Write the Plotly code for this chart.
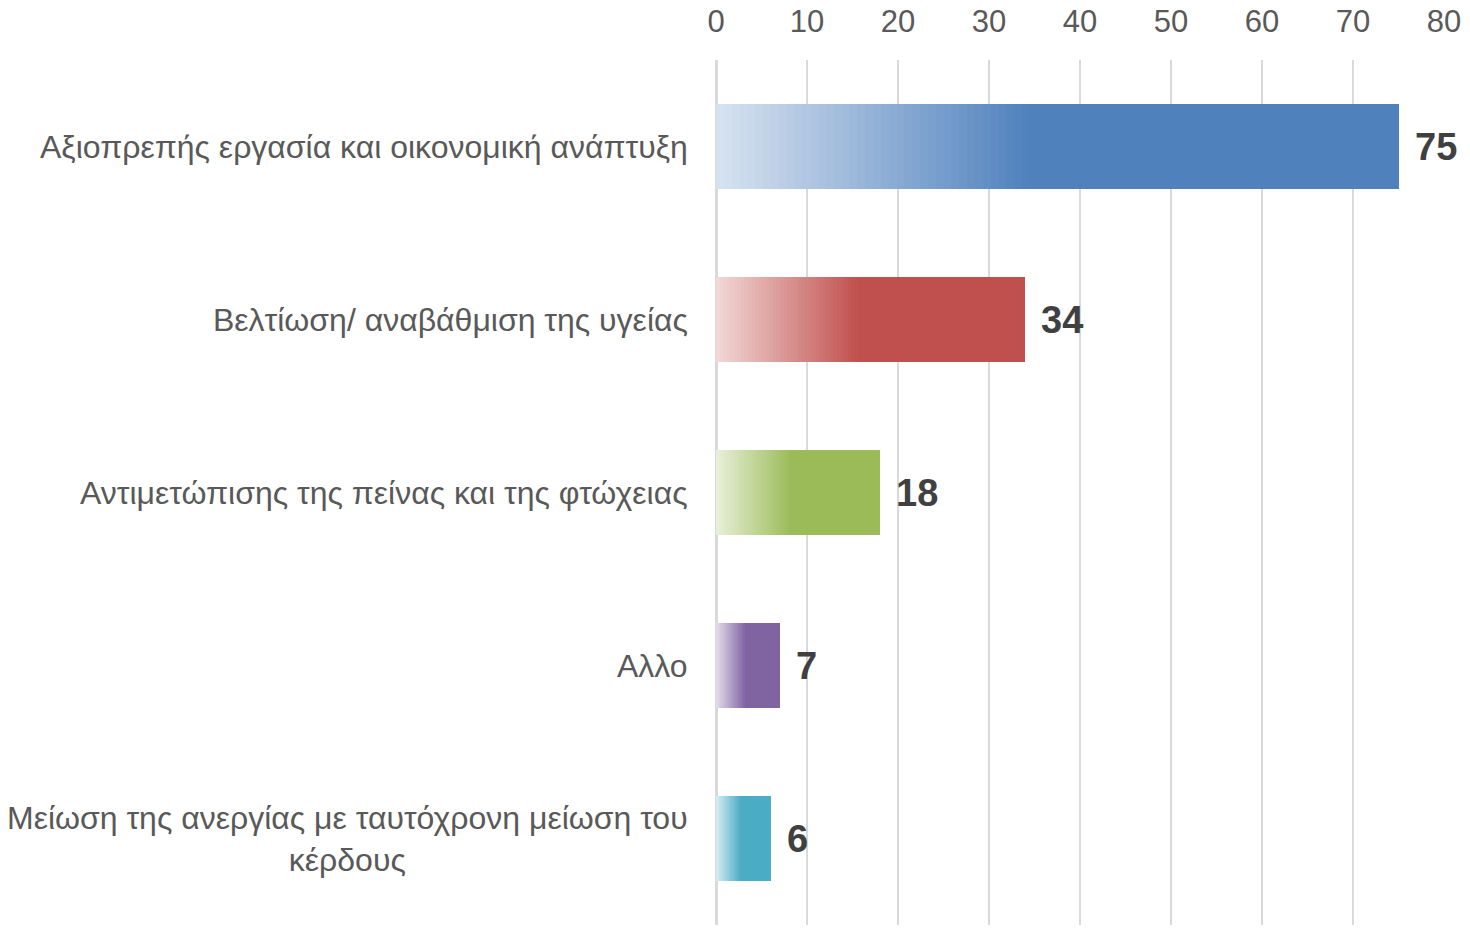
import plotly.graph_objects as go

categories = [
    "Αξιοπρεπής εργασία και οικονομική ανάπτυξη",
    "Βελτίωση/ αναβάθμιση της υγείας",
    "Αντιμετώπισης της πείνας και της φτώχειας",
    "Αλλο",
    "Μείωση της ανεργίας με ταυτόχρονη μείωση του<br>κέρδους",
]
values = [75, 34, 18, 7, 6]
colors = ["#4F81BD", "#C0504D", "#9BBB59", "#8064A2", "#4BACC6"]
tick_vals = [0, 10, 20, 30, 40, 50, 60, 70, 80]

GRAD_FRAC = 0.46   # share of each bar covered by the light->full gradient
N_LAYERS = 40
LIGHT_MIX = 0.78   # how much white is mixed into the lightest end


def hex_to_rgb(h):
    h = h.lstrip("#")
    return tuple(int(h[i:i + 2], 16) for i in (0, 2, 4))


def mix(c, t):
    # t=0 -> lightest, t=1 -> full colour
    r, g, b = hex_to_rgb(c)
    w = LIGHT_MIX * (1 - t)
    return "rgb(%d,%d,%d)" % (round(r + (255 - r) * w), round(g + (255 - g) * w), round(b + (255 - b) * w))


fig = go.Figure()

# full-colour bars
fig.add_trace(go.Bar(
    y=categories, x=values, orientation="h",
    marker=dict(color=colors, line=dict(width=0)),
    width=0.49, hoverinfo="x+y", showlegend=False,
))

# gradient layers: progressively shorter and lighter, drawn on top
for k in range(1, N_LAYERS + 1):
    frac = 1 - (k - 1) / N_LAYERS
    t = 1 - (k - 0.5) / N_LAYERS
    fig.add_trace(go.Bar(
        y=categories,
        x=[v * GRAD_FRAC * frac for v in values],
        orientation="h",
        marker=dict(color=[mix(c, t) for c in colors], line=dict(width=0)),
        width=0.49, hoverinfo="skip", showlegend=False,
    ))

# value labels
for cat, v in zip(categories, values):
    fig.add_annotation(
        x=v, y=cat, xref="x", yref="y", text="<b>%d</b>" % v,
        showarrow=False, xanchor="left", yanchor="middle", xshift=14,
        font=dict(family="Liberation Sans, Arial", size=38, color="#404040"),
    )

# category labels (centered multi-line)
for cat in categories:
    fig.add_annotation(
        x=0, y=cat, xref="paper", yref="y", text=cat,
        showarrow=False, xanchor="right", yanchor="middle", xshift=-26,
        align="center",
        font=dict(family="Liberation Sans, Arial", size=32, color="#595959"),
    )

fig.update_layout(
    barmode="overlay",
    width=1470, height=930,
    margin=dict(l=716, r=26, t=60, b=5, autoexpand=False),
    paper_bgcolor="white", plot_bgcolor="white",
    bargap=0,
)
fig.update_xaxes(
    side="top", range=[0, 80], tickvals=tick_vals, automargin=False,
    showgrid=True, gridcolor="#D9D9D9", gridwidth=2,
    zeroline=True, zerolinecolor="#D9D9D9", zerolinewidth=3,
    showline=False, ticks="", ticklabelstandoff=21,
    tickfont=dict(family="Liberation Sans, Arial", size=31, color="#595959"),
)
fig.update_yaxes(
    categoryorder="array", categoryarray=categories, autorange="reversed",
    automargin=False,
    showticklabels=False, showgrid=False, zeroline=False, showline=False, ticks="",
)

fig.write_html(
    "out.html",
    config={"displayModeBar": False},
    post_script="document.body.style.margin='0px'; document.body.style.overflow='hidden';",
)
